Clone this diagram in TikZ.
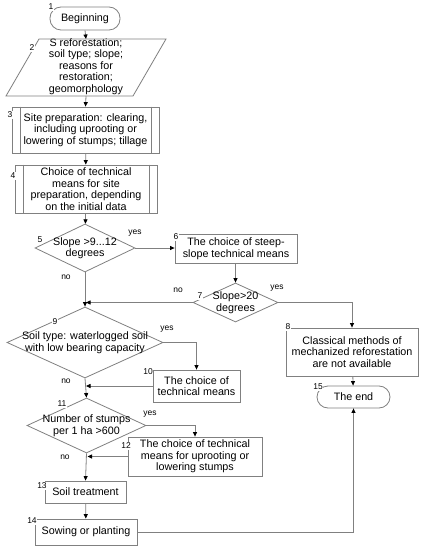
\documentclass[tikz,border=0pt]{standalone}
\usepackage{fontspec}
\setmainfont{Liberation Sans}
\usetikzlibrary{shapes.geometric,arrows.meta,shadows}
\definecolor{lgray}{RGB}{128,128,128}
\newcommand\mainfs{\fontsize{10.8}{11.6}\selectfont}
\newcommand\numfs{\fontsize{8.5}{9}\selectfont}
\begin{document}
\begin{tikzpicture}[x=1bp,y=-1bp,
  line/.style={draw=lgray, line width=0.8bp},
  arr/.style={line, -{Triangle[length=4.5bp,width=4bp,color=black]}},
  box/.style={line, rectangle, inner sep=0pt, align=center, font=\mainfs, fill=white,
    drop shadow={shadow xshift=1.2bp, shadow yshift=-1.2bp, fill=lgray!70, opacity=1}},
  term/.style={line, rectangle, inner sep=0pt, align=center, font=\mainfs, rounded corners=11bp},
  diam/.style={line, diamond, inner sep=0pt},
  txt/.style={align=center, font=\mainfs, inner sep=0pt},
  num/.style={font=\numfs, inner sep=0.6bp, fill=white},
  yn/.style={font=\numfs, inner sep=0pt}
]
\useasboundingbox[fill=white] (0,0) rectangle (425,550);

% nodes
\node[term, minimum width=70bp, minimum height=23bp] (n1) at (85,18.5) {Beginning};
\node[txt] (n2) at (86,66.5) {S reforestation;\\soil type; slope;\\reasons for\\restoration;\\geomorphology};
\draw[line] (6,96) -- (39,39) -- (166,39) -- (133,96) -- cycle;
\coordinate (n2t) at (86,39);
\coordinate (n2b) at (86,96);
\node[box, minimum width=147bp, minimum height=46bp] (n3) at (85.5,130) {Site preparation: clearing,\\including uprooting or\\lowering of stumps; tillage};
\draw[line] ([xshift=8.5bp]n3.north west) -- ([xshift=8.5bp]n3.south west);
\draw[line] ([xshift=-8.5bp]n3.north east) -- ([xshift=-8.5bp]n3.south east);
\node[box, minimum width=142bp, minimum height=48bp] (n4) at (86,189) {Choice of technical\\means for site\\preparation, depending\\on the initial data};
\draw[line] ([xshift=8.5bp]n4.north west) -- ([xshift=8.5bp]n4.south west);
\draw[line] ([xshift=-8.5bp]n4.north east) -- ([xshift=-8.5bp]n4.south east);

\node[diam, minimum width=100bp, minimum height=48bp] (d5) at (85,248) {};
\node[txt] (t5) at (d5) {Slope >9...12\\degrees};
\node[box, minimum width=122bp, minimum height=29bp] (n6) at (236,248.5) {The choice of steep-\\slope technical means};
\node[diam, minimum width=85bp, minimum height=39bp] (d7) at (235.5,302.5) {};
\node[txt] (t7) at (d7) {Slope>20\\degrees};
\node[box, minimum width=132bp, minimum height=48bp] (n8) at (352,352) {Classical methods of\\mechanized reforestation\\are not available};
\node[term, minimum width=73bp, minimum height=22bp] (n15) at (353.5,397) {The end};

\node[diam, minimum width=156bp, minimum height=71bp] (d9) at (85,342.5) {};
\node[txt] (t9) at (d9) {Soil type: waterlogged soil\\with low bearing capacity};
\node[box, minimum width=87bp, minimum height=32bp] (n10) at (196.5,386) {The choice of\\technical means};
\node[diam, minimum width=119bp, minimum height=55bp] (d11) at (86.5,425.5) {};
\node[txt] (t11) at (d11) {Number of stumps\\per 1 ha >600};
\node[box, minimum width=134bp, minimum height=39bp] (n12) at (195,456.5) {The choice of technical\\means for uprooting or\\lowering stumps};
\node[box, minimum width=81bp, minimum height=22bp] (n13) at (85.5,492) {Soil treatment};
\node[box, minimum width=102bp, minimum height=26bp] (n14) at (86,532) {Sowing or planting};

% connectors
\draw[arr] (n1.south) -- (n2t);
\draw[arr] (n2b) -- (n3.north);
\draw[arr] (n3) -- (n4);
\draw[arr] (n4) -- (d5);
\draw[arr] (d5.east) -- (d5.east -| n6.west);
\draw[arr] (d7.north |- n6.south) -- (d7.north);
\draw[arr] (d5.south) -- (d9.north);
\draw[arr] (d7.west) -- ([xshift=1bp]d7.west -| d5.south);
\draw[arr] (d7.east) -| (n8.north);
\draw[arr] (n8) -- (n15);
\draw[arr] (d9.east) -| (n10.north);
\draw[arr] (n10.west) -- ([xshift=1bp]n10.west -| d9.south);
\draw[arr] (d9.south) -- (d11.north);
\draw[arr] (d11.east) -| (n12.north);
\draw[arr] (n12.west) -- ([xshift=1bp]n12.west -| d11.south);
\draw[arr] (d11.south) -- (n13.north);
\draw[arr] (n13) -- (n14);
\draw[arr] (n14.east) -| (n15.south);

% number labels
\node[num] (l1) at (51,7) {1};
\node[num] (l2) at (32,48) {2};
\node[num] (l3) at (10,115) {3};
\node[num] (l4) at (13,176) {4};
\node[num] (l5) at (40,240) {5};
\node[num] (l6) at (176,237) {6};
\node[num] (l7) at (200,296) {7};
\node[num] (l8) at (288,327) {8};
\node[num] (l9) at (55,322) {9};
\node[num] (l10) at (148,372) {10};
\node[num] (l11) at (62,404) {11};
\node[num] (l12) at (126,446) {12};
\node[num] (l13) at (42,486) {13};
\node[num] (l14) at (32,521) {14};
\node[num] (l15) at (318,387) {15};

% yes / no
\node[yn] (y5) at (135,233) {yes};
\node[yn] (o5) at (66,277) {no};
\node[yn] (y7) at (277,288) {yes};
\node[yn] (o7) at (178,290) {no};
\node[yn] (y9) at (167,329) {yes};
\node[yn] (o9) at (66,381) {no};
\node[yn] (y11) at (150,414) {yes};
\node[yn] (o11) at (65,457) {no};
\end{tikzpicture}
\end{document}
